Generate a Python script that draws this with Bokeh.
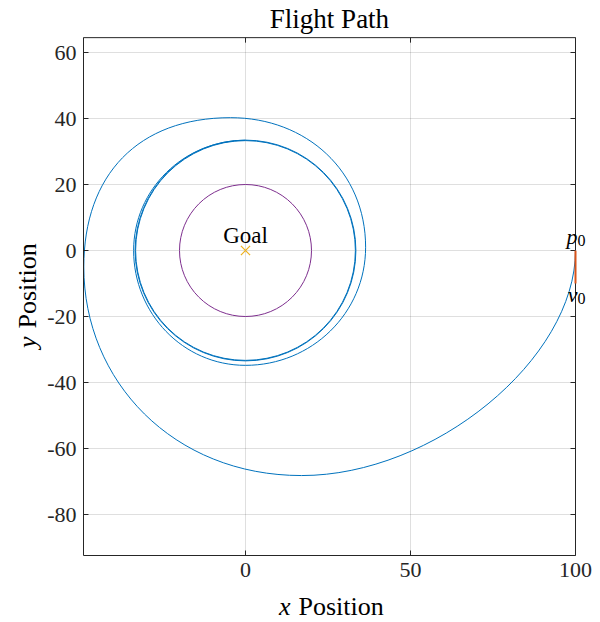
import math
from bokeh.plotting import figure
from bokeh.models import Range1d, FixedTicker
from bokeh.core.properties import value
from bokeh.embed import file_html
from bokeh.resources import INLINE

# ---------------- data ----------------
# flight path as smooth cubic pieces: start/end points and control points
seg_x0 = [100.0, 17.0, -49.0, -4.5, 36.4, 0.0, -33.9]
seg_y0 = [0.0, -68.2, -5.0, 40.25, 1.0, -34.8, 0.0]
seg_x1 = [17.0, -49.0, -4.5, 36.4, 0.0, -33.9, 0.0]
seg_y1 = [-68.2, -5.0, 40.25, 1.0, -34.8, 0.0, 33.4]
seg_cx0 = [100.0, -22.0, -49.0, 18.5, 36.4, -19.0, -33.9]
seg_cy0 = [-33.0, -68.2, 23.0, 40.25, -19.0, -34.8, 18.6]
seg_cx1 = [57.0, -49.0, -32.5, 36.4, 20.0, -33.9, -18.6]
seg_cy1 = [-68.2, -39.5, 40.25, 24.0, -34.8, -19.0, 33.4]
loiter_r = [33.3, 33.45]         # final loiter laps around the goal
goal_x = [0.0]
goal_y = [0.0]
goal_r = [20.0]                  # goal radius circle
v0_x = [100.0, 100.0]            # initial velocity vector
v0_y = [0.0, -10.0]
x_ticks = [0, 50, 100]
y_ticks = [-80, -60, -40, -20, 0, 20, 40, 60]
x_lim = [-49.1, 100.0]
y_lim = [-92.4, 64.5]

FONT = "Liberation Serif"
AX = "#262626"
BLUE = "#0072BD"
RED = "#D95319"
YEL = "#EDB120"
PURP = "#7E2F8E"

W, H = 600, 620
S = 3.3                       # pixels per data unit (axis equal)
PX0, PY0 = 245.0, 250.0       # canvas pixel of the data origin
xr = Range1d(-PX0 / S, (W - PX0) / S)
yr = Range1d((PY0 - H) / S, PY0 / S)
X0, X1 = x_lim
Y0, Y1 = y_lim

p = figure(frame_width=W, frame_height=H, x_range=xr, y_range=yr,
           output_backend="svg", toolbar_location=None,
           min_border=0, min_border_left=0, min_border_right=0,
           min_border_top=0, min_border_bottom=0)
p.background_fill_color = "white"
p.border_fill_color = "white"
p.outline_line_color = None
p.grid.visible = False

# axes fixed on the edges of the box
p.xaxis.fixed_location = Y0
p.yaxis.fixed_location = X0
p.xaxis.bounds = (X0, X1)
p.yaxis.bounds = (Y0, Y1)
p.xaxis.ticker = FixedTicker(ticks=x_ticks)
p.yaxis.ticker = FixedTicker(ticks=y_ticks)
p.yaxis.major_label_overrides = {t: str(t) for t in y_ticks}
for ax in list(p.xaxis) + list(p.yaxis):
    ax.major_tick_in = 5
    ax.major_tick_out = 0
    ax.minor_tick_line_color = None
    ax.axis_line_color = AX
    ax.major_tick_line_color = AX
    ax.major_label_text_font = FONT
    ax.major_label_text_font_size = "22px"
    ax.major_label_text_color = AX
p.xaxis.major_label_standoff = 8
p.yaxis.major_label_standoff = 7

# grid lines inside the box
p.segment(x0=x_ticks, y0=[Y0] * len(x_ticks), x1=x_ticks, y1=[Y1] * len(x_ticks),
          line_color=AX, line_alpha=0.15, line_width=1)
p.segment(x0=[X0] * len(y_ticks), y0=y_ticks, x1=[X1] * len(y_ticks), y1=y_ticks,
          line_color=AX, line_alpha=0.15, line_width=1)

# top and right edges of the box with inward ticks
p.line(x=[X0, X1, X1], y=[Y1, Y1, Y0], line_color=AX, line_width=1)
p.ray(x=x_ticks, y=[Y1] * len(x_ticks), length=5, length_units="screen",
      angle=-math.pi / 2, line_color=AX, line_width=1)
p.ray(x=[X1] * len(y_ticks), y=y_ticks, length=5, length_units="screen",
      angle=math.pi, line_color=AX, line_width=1)

# flight path
p.bezier(x0=seg_x0, y0=seg_y0, x1=seg_x1, y1=seg_y1,
         cx0=seg_cx0, cy0=seg_cy0, cx1=seg_cx1, cy1=seg_cy1,
         line_color=BLUE, line_width=1)
p.circle(x=[0.0] * len(loiter_r), y=[0.0] * len(loiter_r), radius=loiter_r,
         fill_color=None, line_color=BLUE, line_width=1)
# goal circle and marker
p.circle(x=goal_x, y=goal_y, radius=goal_r, fill_color=None,
         line_color=PURP, line_width=1)
p.scatter(x=goal_x, y=goal_y, marker="x", size=13, line_color=YEL, line_width=1.2)
# initial velocity
p.line(v0_x, v0_y, line_color=RED, line_width=2)


def d(px=None, py=None):
    # canvas pixel -> data coordinate
    if px is not None:
        return (px - PX0) / S
    return (PY0 - py) / S


def txt(x, y, t, size="22px", style="normal", align="center",
        baseline="middle", angle=0.0, color="black"):
    p.text(x=[x], y=[y], text=[t], text_font=value(FONT), text_font_size=size,
           text_font_style=style, text_align=align, text_baseline=baseline,
           angle=angle, text_color=color)


txt(0.0, d(py=235), "Goal", size="23px", baseline="alphabetic")
txt(d(px=577), d(py=236), "p", style="italic", align="right", baseline="alphabetic")
txt(d(px=577), d(py=240), "0", size="16px", align="left", baseline="alphabetic")
txt(d(px=577), d(py=294), "v", style="italic", align="right", baseline="alphabetic")
txt(d(px=577), d(py=298), "0", size="16px", align="left", baseline="alphabetic")

txt((X0 + X1) / 2, d(py=18), "Flight Path", size="27px")
txt(d(px=290), d(py=606), "x", size="26px", style="italic", align="right")
txt(d(px=298), d(py=606), "Position", size="26px", align="left")
txt(d(px=27), d(py=336), "y", size="26px", style="italic", align="right",
    angle=math.pi / 2)
txt(d(px=27), d(py=328), "Position", size="26px", align="left",
    angle=math.pi / 2)

open("out.html", "w").write(file_html(p, INLINE))
